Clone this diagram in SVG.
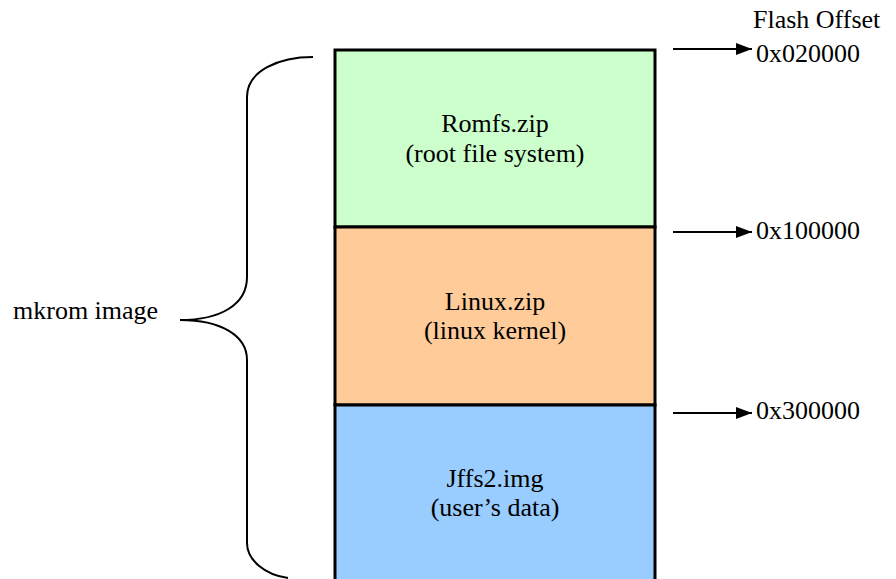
<svg xmlns="http://www.w3.org/2000/svg" width="896" height="579" viewBox="0 0 896 579">
<style>
text{font-family:"Liberation Serif","Times New Roman",serif;font-size:26px;fill:#000}
.c{text-anchor:middle}
.box{stroke:#000;stroke-width:3}
.ln{fill:none;stroke:#000;stroke-width:2}
</style>
<defs>
<marker id="ah" markerWidth="16" markerHeight="12" refX="16" refY="6" orient="auto" markerUnits="userSpaceOnUse" viewBox="0 0 16 12">
<path d="M0,0 L16,6 L0,12 z" fill="#000"/>
</marker>
</defs>
<rect width="896" height="579" fill="#fff"/>
<g id="romfs">
<rect class="box" x="335" y="50" width="320" height="177" fill="#CCFFCC"/>
<text class="c" x="495" y="132">Romfs.zip</text>
<text class="c" x="495" y="162">(root file system)</text>
</g>
<g id="linux">
<rect class="box" x="335" y="227" width="320" height="178" fill="#FFCC99"/>
<text class="c" x="495" y="310">Linux.zip</text>
<text class="c" x="495" y="339">(linux kernel)</text>
</g>
<g id="jffs2">
<rect class="box" x="335" y="405" width="320" height="190" fill="#99CCFF"/>
<text class="c" x="495" y="487">Jffs2.img</text>
<text class="c" x="495" y="516">(user’s data)</text>
</g>
<g id="brace">
<path class="ln" d="M313,57 C280,57 247,70 247,97 L247,277 C247,305 220,320 180,320 C220,320 247,335 247,360 L247,543 C247,560 265,575 288,578"/>
</g>
<g id="labels">
<text x="13" y="319">mkrom image</text>
<text x="753" y="28">Flash Offset</text>
<text x="756" y="62">0x020000</text>
<text x="756" y="239">0x100000</text>
<text x="756" y="419">0x300000</text>
</g>
<g id="connectors">
<line class="ln" x1="673" y1="49" x2="752" y2="49" marker-end="url(#ah)"/>
<line class="ln" x1="673" y1="232" x2="752" y2="232" marker-end="url(#ah)"/>
<line class="ln" x1="673" y1="413" x2="752" y2="413" marker-end="url(#ah)"/>
</g>
</svg>
